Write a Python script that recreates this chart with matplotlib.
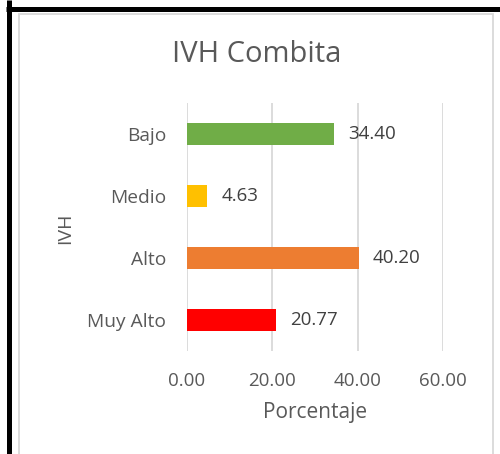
import matplotlib.pyplot as plt
from matplotlib.patches import Rectangle
from matplotlib.lines import Line2D

# data
categorias = ['Bajo', 'Medio', 'Alto', 'Muy Alto']
porcentaje = [34.40, 4.63, 40.20, 20.77]
colores = ['#70AD47', '#FFC000', '#ED7D31', '#FF0000']
xticks = [0, 20, 40, 60]

gris = '#595959'
plt.rcParams['font.family'] = ['Open Sans', 'DejaVu Sans']

W, H = 500, 454
fig = plt.figure(figsize=(W / 100, H / 100), dpi=100)
ax = fig.add_axes([187 / W, 1 - 351 / H, (443 - 187) / W, (351 - 103) / H])

ypos = range(len(categorias))
bars = ax.barh(ypos, porcentaje, height=0.37, color=colores, zorder=3)
ax.bar_label(bars, labels=['%.2f' % v for v in porcentaje], padding=10.5,
             fontsize=13.5, color='#404040')

ax.set_ylim(len(categorias) - 0.5, -0.5)
ax.set_yticks(list(ypos))
ax.set_yticklabels(categorias, fontsize=13.8, color=gris)
ax.set_xlim(0, 60)
ax.set_xticks(xticks)
ax.set_xticklabels(['%.2f' % v for v in xticks], fontsize=13.5, color=gris)
ax.tick_params(axis='both', length=0)
ax.tick_params(axis='x', pad=15)
ax.tick_params(axis='y', pad=15)
ax.grid(axis='x', color='#D9D9D9', linewidth=1.3, zorder=0)
for s in ax.spines.values():
    s.set_visible(False)

ax.set_xlabel('Porcentaje', fontsize=15, color=gris, labelpad=9)
fig.text(65 / W, 1 - 228 / H, 'IVH', rotation=90, fontsize=14, color=gris,
         ha='center', va='center')
fig.text(257 / W, 1 - 55 / H, 'IVH Combita', fontsize=21, color=gris,
         ha='center', va='center')

# chart frame and black border
fig.add_artist(Rectangle((19 / W, -0.05), (493 - 19) / W, 1 - 14 / H + 0.05,
                         transform=fig.transFigure, fill=False,
                         edgecolor='#D9D9D9', linewidth=1.3))
fig.add_artist(Line2D([8.5 / W, 8.5 / W], [0, 1], transform=fig.transFigure,
                      color='black', linewidth=3.6, solid_capstyle='butt'))
fig.add_artist(Line2D([6 / W, 1], [1 - 8.5 / H, 1 - 8.5 / H], transform=fig.transFigure,
                      color='black', linewidth=3.6, solid_capstyle='butt'))

fig.savefig('out.png', dpi=100)
